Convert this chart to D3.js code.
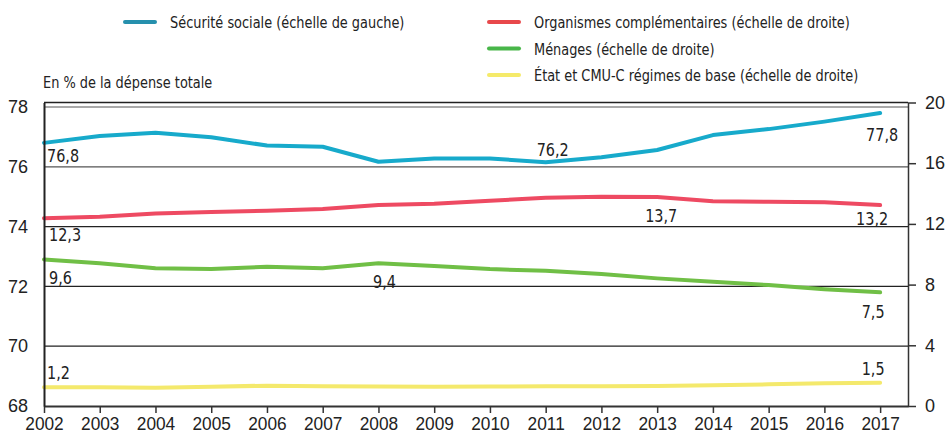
<!DOCTYPE html>
<html><head><meta charset="utf-8">
<script src="https://cdn.jsdelivr.net/npm/d3@7"></script>
<style>
body{margin:0;background:#fff;}
svg{display:block;font-family:"Liberation Sans Narrow","DejaVu Sans Condensed",sans-serif;}
</style></head>
<body><svg id="c" width="946" height="433"></svg>
<script>
const years = [2002,2003,2004,2005,2006,2007,2008,2009,2010,2011,2012,2013,2014,2015,2016,2017];
const securiteSociale = [76.8,77.03,77.14,76.99,76.71,76.67,76.17,76.28,76.28,76.15,76.32,76.56,77.06,77.26,77.51,77.8];
const organismes = [12.38,12.47,12.69,12.78,12.87,12.98,13.24,13.33,13.53,13.72,13.79,13.77,13.5,13.46,13.42,13.24];
const menages = [9.66,9.4,9.07,9.02,9.18,9.07,9.4,9.22,9.02,8.91,8.7,8.41,8.19,7.97,7.69,7.49];
const etat = [1.23,1.23,1.21,1.27,1.34,1.3,1.28,1.27,1.28,1.3,1.3,1.32,1.36,1.43,1.5,1.53];
const leftTicks = [68,70,72,74,76,78];
const rightTicks = [0,4,8,12,16,20];
const seriesNames = ["Sécurité sociale (échelle de gauche)","Organismes complémentaires (échelle de droite)","Ménages (échelle de droite)","État et CMU-C régimes de base (échelle de droite)"];
const yTitle = "En % de la dépense totale";
// value labels: [series index, year, text]
const valueLabels = [
  [0,2002,"76,8"],[0,2011,"76,2"],[0,2017,"77,8"],
  [1,2002,"12,3"],[1,2013,"13,7"],[1,2017,"13,2"],
  [2,2002,"9,6"],[2,2008,"9,4"],[2,2017,"7,5"],
  [3,2002,"1,2"],[3,2017,"1,5"]
];

const svg = d3.select("#c");
const x = d3.scaleLinear().domain([2002,2017.5]).range([44,908]);
const yL = d3.scaleLinear().domain([68,78.15]).range([406,102.5]);
const yR = d3.scaleLinear().domain([0,20]).range([406,102.5]);

const series = [
  {vals:securiteSociale, y:yL, color:"#17aacb", legend:"#2690ad"},
  {vals:organismes, y:yR, color:"#ee4a62", legend:"#e8484b"},
  {vals:menages, y:yR, color:"#70bf46", legend:"#48b649"},
  {vals:etat, y:yR, color:"#f4e96c", legend:"#f5ea6a"}
];

function addText(tx,ty,t,size,anchor,sx){
  svg.append("text").attr("transform",`translate(${tx},${ty}) scale(${sx},1)`)
    .attr("text-anchor",anchor).attr("font-size",size).attr("fill","#222").text(t);
}

// gridlines
svg.append("g").selectAll("line").data(leftTicks.filter(d=>d>68)).join("line")
  .attr("x1",x.range()[0]).attr("x2",x.range()[1])
  .attr("y1",d=>yL(d)).attr("y2",d=>yL(d))
  .attr("stroke",d=>d>=76?"#555":"#222").attr("stroke-width",1.2);
// top border
svg.append("line").attr("x1",x.range()[0]).attr("x2",x.range()[1])
  .attr("y1",yR(20)).attr("y2",yR(20)).attr("stroke","#222").attr("stroke-width",1.5);

// lines
series.forEach(s=>{
  const line = d3.line().x((d,i)=>x(years[i])).y(d=>s.y(d));
  svg.append("path").datum(s.vals).attr("d",line)
    .attr("fill","none").attr("stroke",s.color).attr("stroke-width",4)
    .attr("stroke-linejoin","round").attr("stroke-linecap","round");
});

// axes
const xAxis = d3.axisBottom(x).tickValues(years).tickFormat(d3.format("d")).tickSize(7).tickSizeOuter(0).tickPadding(4);
const gx = svg.append("g").attr("transform","translate(0,406)").call(xAxis);
gx.select(".domain").attr("stroke","#333").attr("stroke-width",2);
gx.selectAll(".tick line").attr("stroke","#333").attr("stroke-width",1.5);
gx.selectAll("text").attr("font-size",18).attr("fill","#222").attr("font-family","inherit").attr("transform","scale(0.96,1)");

const lAxis = d3.axisLeft(yL).tickValues(leftTicks).tickFormat(d3.format("d")).tickSize(0).tickSizeOuter(0).tickPadding(16);
const gl = svg.append("g").attr("transform","translate(44,0)").call(lAxis);
gl.select(".domain").attr("stroke","#222").attr("stroke-width",2);
gl.selectAll("text").attr("font-size",18).attr("fill","#222").attr("font-family","inherit");

const rAxis = d3.axisRight(yR).tickValues(rightTicks).tickFormat(d3.format("d")).tickSize(8).tickSizeOuter(0).tickPadding(9);
const gr = svg.append("g").attr("transform","translate(908,0)").call(rAxis);
gr.select(".domain").attr("stroke","#333").attr("stroke-width",1.5);
gr.selectAll(".tick line").attr("stroke","#333").attr("stroke-width",1.5);
gr.selectAll("text").attr("font-size",18).attr("fill","#222").attr("font-family","inherit");

// value labels
const labelOffsets = {
  "0-2002":{dx:3,dy:19,a:"start"},"0-2011":{dx:7,dy:-6,a:"middle"},"0-2017":{dx:2,dy:28,a:"middle"},
  "1-2002":{dx:5,dy:23,a:"start"},"1-2013":{dx:4,dy:25,a:"middle"},"1-2017":{dx:-8,dy:20,a:"middle"},
  "2-2002":{dx:5,dy:25,a:"start"},"2-2008":{dx:6,dy:25,a:"middle"},"2-2017":{dx:-7,dy:26,a:"middle"},
  "3-2002":{dx:3,dy:-8,a:"start"},"3-2017":{dx:-7,dy:-8,a:"middle"}
};
valueLabels.forEach(([si,yr,t])=>{
  const s = series[si], i = years.indexOf(yr), o = labelOffsets[si+"-"+yr];
  addText(x(yr)+o.dx, s.y(s.vals[i])+o.dy, t, 18, o.a, 0.89);
});

// y title
addText(43, 88, yTitle, 16.5, "start", 0.87);

// legend
const legPos = [[123,22],[487,22],[487,48.5],[487,75]];
seriesNames.forEach((n,i)=>{
  const [lx,ly]=legPos[i];
  svg.append("line").attr("x1",lx+2).attr("x2",lx+32).attr("y1",ly).attr("y2",ly)
    .attr("stroke",series[i].legend).attr("stroke-width",4).attr("stroke-linecap","round");
  addText(lx+47, ly+6, n, 16.5, "start", 0.87);
});
</script></body></html>
